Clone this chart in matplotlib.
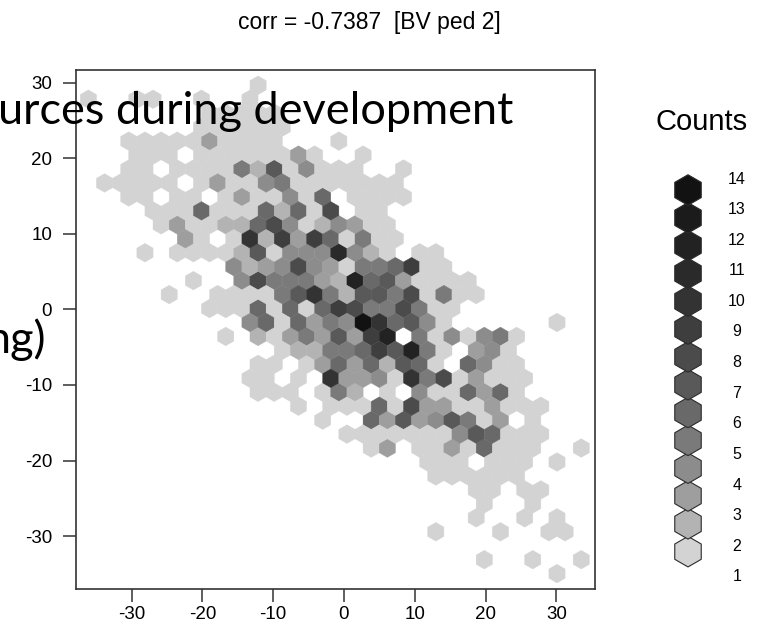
import numpy as np
import matplotlib
matplotlib.use("Agg")
import matplotlib.pyplot as plt
from matplotlib.colors import ListedColormap, BoundaryNorm

plt.rcParams['font.family'] = ['Liberation Sans', 'DejaVu Sans']
plt.rcParams['axes.unicode_minus'] = False

# hexbin counts, one string per lattice row (top row first)
# '.' = empty cell, '1'..'9' and 'a'..'e' = 1..14
hex_rows = [
    "...........1....................",
    "1..11..1..1.....................",
    "........11111...................",
    ".......111111...................",
    "...1111131111...1...............",
    "...111.11111131..1..............",
    "...11.111152714111..1...........",
    ".11111.1311451111111............",
    "...11.11.1311416.1111...........",
    "....111611162618.11.............",
    ".....131122684124311............",
    "......31.1a293961511............",
    "....1.1111271444b421.11.........",
    ".........42348431556911.........",
    ".......1..4855532c6731111.......",
    ".....1..111157a5277581511.......",
    "........1116161698558511........",
    "..........4616354ea6741......1..",
    ".........1.21353739c.5141451....",
    "............12255697c51.341.....",
    "...........11.136362761.6411....",
    "..........11.1.a3341a5813111....",
    "...........111.152.1.4116361....",
    ".............1.11161833113111...",
    "...............1..637347513.1...",
    "................1111111476111...",
    "..................13.11316111..1",
    ".....................111.111.1..",
    "......................111111....",
    "........................11.11...",
    ".........................1..1...",
    "........................1..1.1..",
    "......................1...1..11.",
    "................................",
    ".........................1..1..1",
    ".............................1..",
]

count_levels = list(range(1, 15))
count_greys = ["#d3d3d3", "#b3b3b3", "#9e9e9e", "#8c8c8c", "#7a7a7a",
               "#696969", "#595959", "#4b4b4b", "#3e3e3e", "#333333",
               "#2a2a2a", "#222222", "#1b1b1b", "#121212"]

x_ticks = [-30, -20, -10, 0, 10, 20, 30]
y_ticks = [-30, -20, -10, 0, 10, 20, 30]
title_txt = "corr = -0.7387  [BV ped 2]"

# lattice geometry (data units)
x_left = -37.23     # centre of column 0 on even rows
hex_w = 2.2815      # horizontal centre spacing
y_top = 29.66       # centre of row 0
row_h = 1.8465      # vertical row spacing

symbols = ".123456789abcde"
xs, ys, cs = [], [], []
for r, row in enumerate(hex_rows):
    for c, ch in enumerate(row):
        n = symbols.index(ch)
        if n > 0:
            xs.append(x_left + (c + 0.5 * (r % 2)) * hex_w)
            ys.append(y_top - r * row_h)
            cs.append(n)

n_cols = len(hex_rows[0])
n_pairs = len(hex_rows) // 2
y_bot = y_top - 2 * n_pairs * row_h

cmap = ListedColormap(count_greys)
norm = BoundaryNorm(np.arange(0.5, 15.5, 1.0), cmap.N)

fig = plt.figure(figsize=(7.64, 6.36), dpi=100)
ax = fig.add_axes([0.0991, 0.0739, 0.6797, 0.8168])

ax.hexbin(xs, ys, C=cs, reduce_C_function=np.sum,
          gridsize=(n_cols, n_pairs),
          extent=(x_left, x_left + n_cols * hex_w, y_bot, y_top),
          cmap=cmap, norm=norm, edgecolors='face', linewidths=0.3)

ax.set_xlim(-37.88, 35.44)
ax.set_ylim(-37.0, 31.75)
ax.set_xticks(x_ticks)
ax.set_yticks(y_ticks)
ax.tick_params(axis='both', direction='out', length=9.4, width=1.1,
               color='#333333', labelsize=13.5, labelcolor='black')
ax.tick_params(axis='x', pad=3)
ax.tick_params(axis='y', pad=7.5)
for sp in ax.spines.values():
    sp.set_color('#333333')
    sp.set_linewidth(1.2)

fig.text(369 / 764, 1 - 22 / 636, title_txt, ha='center', va='center',
         fontsize=16.5)

# legend: stacked hexagons with count labels
lax = fig.add_axes([0, 0, 1, 1])
lax.set_xlim(0, 764)
lax.set_ylim(636, 0)
lax.axis('off')
lax.patch.set_alpha(0)
lev = np.array(count_levels)
lax.scatter(np.full(len(lev), 688), 190 + (14 - lev) * 27.82, marker='h',
            s=22 ** 2, c=count_greys, edgecolors='#2b2b2b', linewidths=0.8)
for k in count_levels:
    lax.text(737, 179 + (14 - k) * 30.6, str(k), ha='center', va='center',
             fontsize=11.5)
lax.text(702, 122, "Counts", ha='center', va='center', fontsize=21)

# slide text lying over the chart
fig.text(-2 / 764, 1 - 124 / 636, "urces during development",
         family=['Lato', 'DejaVu Sans'], fontsize=32.5, ha='left',
         va='baseline', zorder=10)
fig.text(46 / 764, 1 - 353 / 636, "ng)", family=['Lato', 'DejaVu Sans'],
         fontsize=32.5, ha='right', va='baseline', zorder=10)

fig.savefig("out.png", dpi=100)
